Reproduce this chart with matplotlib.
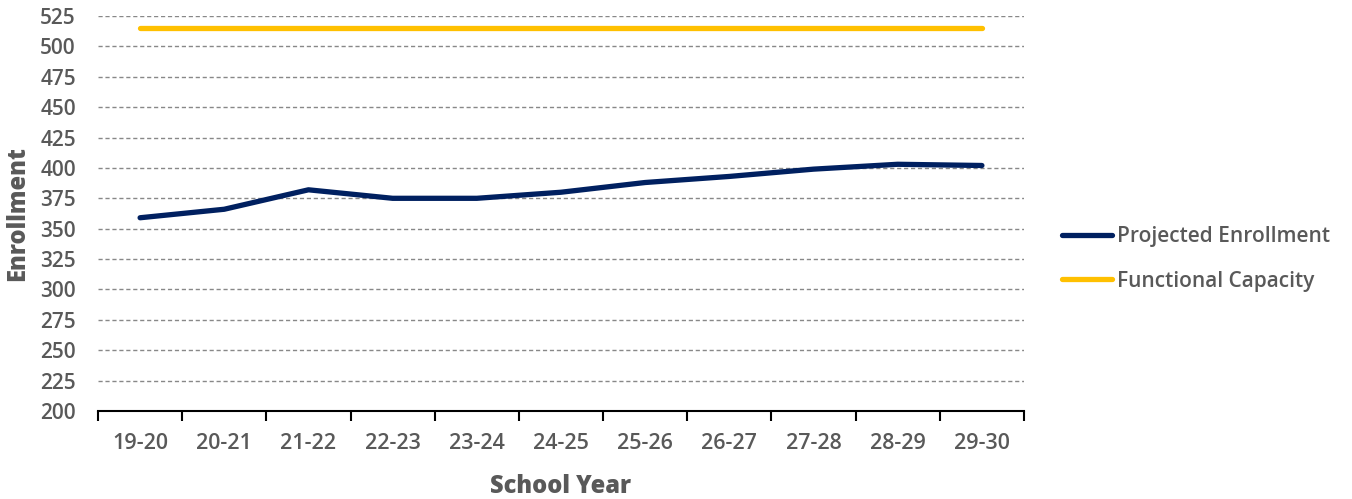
import matplotlib
matplotlib.use("Agg")
import matplotlib.pyplot as plt
import numpy as np

years = ["19-20", "20-21", "21-22", "22-23", "23-24", "24-25", "25-26", "26-27", "27-28", "28-29", "29-30"]
projected = [359, 366, 382, 375, 375, 380, 388, 393, 399, 403, 402]
capacity = [515] * 11

plt.rcParams['font.family'] = ['Open Sans', 'DejaVu Sans']
TXT = "#595959"

fig = plt.figure(figsize=(13.52, 4.99), dpi=100)
ax = fig.add_axes([98/1352, 1-411/499, (1024-98)/1352, (411-16)/499])

x = np.arange(len(years))
ax.plot(x, projected, color="#002060", lw=3.8, solid_capstyle="round", label="Projected Enrollment", zorder=3)
ax.plot(x, capacity, color="#FFC000", lw=3.8, solid_capstyle="round", label="Functional Capacity", zorder=3)

ax.set_xlim(-0.5, len(years)-0.5)
ax.set_ylim(200, 525)
ax.set_yticks(np.arange(200, 526, 25))
ax.set_xticks(x)
ax.set_xticklabels(years)
ax.set_xticks(np.arange(-0.5, len(years), 1), minor=True)
ax.tick_params(axis='x', which='major', length=0, pad=16, labelsize=15.5, labelcolor=TXT)
ax.tick_params(axis='x', which='minor', length=7, width=1.5, direction='out', color='black')
ax.tick_params(axis='y', length=0, pad=16, labelsize=15, labelcolor=TXT)
for lab in ax.get_xticklabels() + ax.get_yticklabels():
    lab.set_fontweight('semibold')

for s in ['left', 'right', 'top']:
    ax.spines[s].set_visible(False)
ax.spines['bottom'].set_linewidth(1.5)
ax.spines['bottom'].set_color('black')

ax.yaxis.grid(True, color="#888888", linestyle=(0, (3, 2)), lw=1.0)
ax.set_axisbelow(True)

ax.set_xlabel("School Year", fontsize=17, fontweight='heavy', color=TXT, labelpad=14)
ax.set_ylabel("Enrollment", fontsize=17, fontweight='heavy', color=TXT, labelpad=7)

leg = fig.legend(loc='center left', bbox_to_anchor=(1043/1352, 1-259/499), frameon=False,
                 handlelength=2.4, handletextpad=0.25, labelspacing=1.12,
                 prop={'family': ['Open Sans', 'DejaVu Sans'], 'weight': 'semibold', 'size': 15})
for t in leg.get_texts():
    t.set_color(TXT)

fig.savefig("out.png", dpi=100)
